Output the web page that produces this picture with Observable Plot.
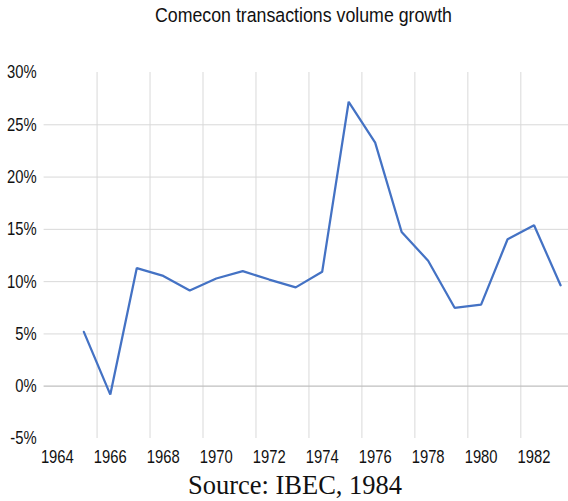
<!DOCTYPE html>
<html>
<head>
<meta charset="utf-8">
<script src="https://cdn.jsdelivr.net/npm/d3@7"></script>
<script src="https://cdn.jsdelivr.net/npm/@observablehq/plot@0.6"></script>
<style>
  html, body { margin: 0; padding: 0; background: #fff; }
  #wrap { position: relative; width: 568px; height: 501px; overflow: hidden; background: #fff; }
  #title { position: absolute; left: 0; top: 3px; width: 607px; text-align: center;
    font-family: "Liberation Sans", sans-serif; font-size: 20.5px; color: #111; }
  #title span { display: inline-block; transform: scaleX(0.866); transform-origin: 50% 50%; }
  #chart { position: absolute; left: 0; top: 40px; }
  #caption { position: absolute; left: 0; top: 470px; width: 590px; text-align: center;
    font-family: "Liberation Serif", "Times New Roman", serif; font-size: 26.5px; color: #111; line-height: 30px; }
</style>
</head>
<body>
<div id="wrap">
  <div id="title"><span>Comecon transactions volume growth</span></div>
  <div id="chart"></div>
  <div id="caption">Source: IBEC, 1984</div>
</div>
<script>
const years = [1965,1966,1967,1968,1969,1970,1971,1972,1973,1974,1975,1976,1977,1978,1979,1980,1981,1982,1983];
const growth = [5.2,-0.8,11.3,10.55,9.15,10.3,11.0,10.2,9.45,10.95,27.2,23.3,14.75,12.0,7.5,7.8,14.05,15.4,9.65];
const yTicks = [-5,0,5,10,15,20,25,30];
const xTicks = [1964,1966,1968,1970,1972,1974,1976,1978,1980,1982];
const xGrid = [1965.5,1967.5,1969.5,1971.5,1973.5,1975.5,1977.5,1979.5,1981.5];

const data = years.map((y, i) => ({year: y, value: growth[i]}));

const chart = Plot.plot({
  width: 568,
  height: 430,
  marginLeft: 43.6,
  marginRight: 0,
  marginTop: 32,
  marginBottom: 32,
  style: {fontFamily: '"Liberation Sans", sans-serif', fontSize: "18.5px", color: "#111", background: "transparent"},
  x: {domain: [1963.5, 1983.3]},
  y: {domain: [-5, 30]},
  marks: [
    Plot.ruleX(xGrid, {stroke: "#d9d9d9", strokeWidth: 1}),
    Plot.ruleY(yTicks.filter(d => d > 0 && d < 30), {stroke: "#d9d9d9", strokeWidth: 1}),
    Plot.ruleY([0], {stroke: "#bfbfbf", strokeWidth: 1.3}),
    Plot.axisY(yTicks, {tickSize: 0, tickPadding: 7.5, tickFormat: d => d + "%", label: null, fill: "#111"}),
    Plot.axisX(xTicks, {tickSize: 0, tickPadding: 11, tickFormat: d => String(d), label: null, fill: "#111"}),
    Plot.line(data, {x: "year", y: "value", stroke: "#4472c4", strokeWidth: 2.25, strokeLinejoin: "miter"})
  ]
});
document.getElementById("chart").appendChild(chart);
// condense the tick labels horizontally (Calibri-like narrow look)
chart.querySelectorAll("text").forEach(t => {
  const w = t.getComputedTextLength();
  if (w > 0) {
    t.setAttribute("textLength", (w * 0.8).toFixed(2));
    t.setAttribute("lengthAdjust", "spacingAndGlyphs");
  }
});
</script>
</body>
</html>
